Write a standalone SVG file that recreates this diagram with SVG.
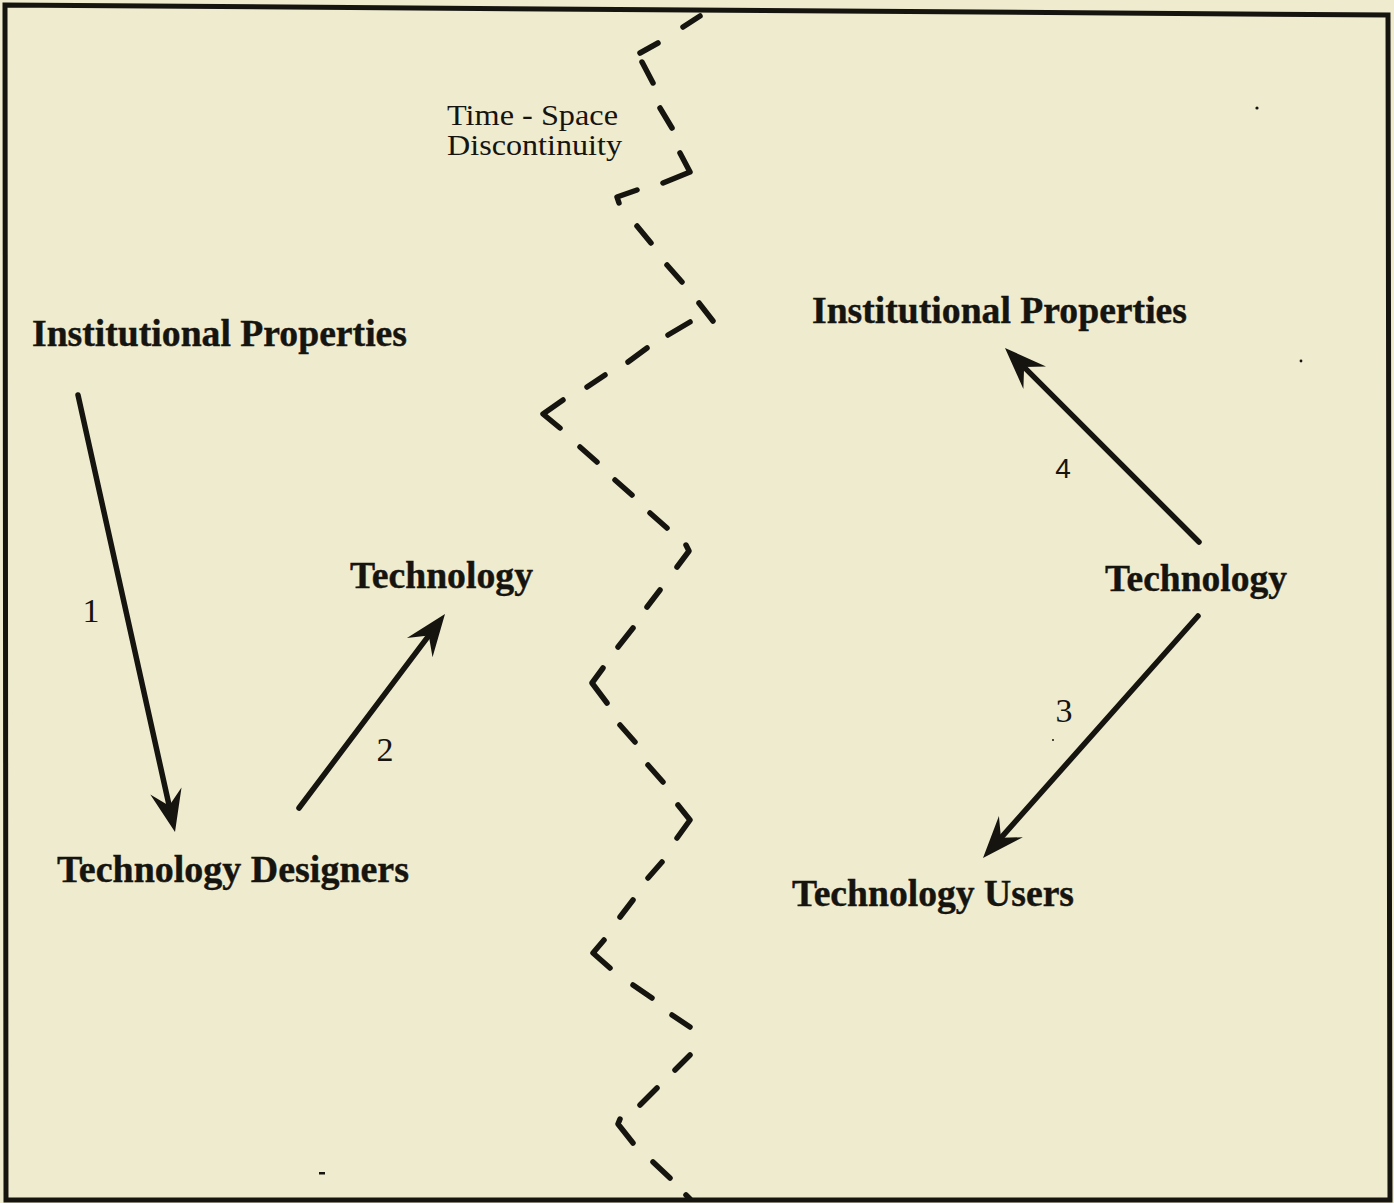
<svg xmlns="http://www.w3.org/2000/svg" width="1394" height="1203" viewBox="0 0 1394 1203">
  <defs>
    <style>
      .node { font-family: "Liberation Serif", "Times New Roman", serif; font-weight: bold; font-size: 38px; fill: #16140f; stroke: #16140f; stroke-width: 0.4; }
      .note { font-family: "Liberation Serif", "Times New Roman", serif; font-size: 30px; fill: #16140f; }
      .num { font-family: "Liberation Serif", "Times New Roman", serif; font-size: 34px; fill: #16140f; text-anchor: middle; }
      .num-sans { font-family: "Liberation Sans", Arial, sans-serif; font-size: 28px; fill: #16140f; text-anchor: middle; }
      .arrow { fill: none; stroke: #16140f; stroke-width: 5.5; stroke-linecap: round; marker-end: url(#barb); }
      .zigzag { fill: none; stroke: #16140f; stroke-width: 5.5; stroke-linecap: round; stroke-linejoin: round; }
      .frame { fill: none; stroke: #16140f; stroke-width: 5; stroke-linejoin: miter; }
    </style>
    <!-- barbed arrowhead: notch sits on the line end, tip 27px further on -->
    <marker id="barb" markerUnits="userSpaceOnUse" markerWidth="80" markerHeight="80" refX="0" refY="0" orient="auto" overflow="visible">
      <path d="M27,0 L-15,-16 L0,0 L-15,16 Z" fill="#16140f"/>
    </marker>
  </defs>

  <!-- paper -->
  <rect x="0" y="0" width="1394" height="1203" fill="#eeebcf"/>

  <!-- outer frame -->
  <g id="frame">
    <polygon class="frame" points="5,5 1388,15 1390,1200 6,1200"/>
  </g>

  <!-- time-space discontinuity: hand-drawn dashed zigzag -->
  <g id="discontinuity">
    <path class="zigzag" d="M700,16 L683,27 M658,43 L640,53 M642,62 L653,83 M660,108 L672,128 M680,153 L690,172 L663,183 M637,190 L617,197 L619,203 M637,226 L651,243 M667,265 L682,282 M699,303 L713,321 M690,322 L668,335 M647,348 L628,362 M605,375 L587,387 M563,400 L543,414 L560,428 M580,447 L597,462 M615,480 L632,495 M650,513 L667,528 M686,545 L689,551 L677,567 M660,590 L647,607 M633,628 L618,647 M603,668 L592,683 L607,703 M620,725 L635,742 M648,765 L663,782 M678,805 L690,820 L677,838 M662,862 L648,878 M633,900 L620,917 M604,940 L593,953 L610,968 M633,985 L652,998 M672,1015 L690,1027 M690,1055 L675,1070 M657,1088 L640,1105 M620,1119 L618,1124 L633,1143 M653,1162 L670,1178 M686,1195 L690,1199"/>
    <text class="note" x="447" y="125" textLength="171" lengthAdjust="spacingAndGlyphs">Time - Space</text>
    <text class="note" x="447" y="155" textLength="175" lengthAdjust="spacingAndGlyphs">Discontinuity</text>
  </g>

  <!-- left side: design time -->
  <g id="institutional-properties-left">
    <text class="node" x="32" y="346" textLength="375" lengthAdjust="spacingAndGlyphs">Institutional Properties</text>
  </g>
  <g id="technology-left">
    <text class="node" x="350" y="588" textLength="183" lengthAdjust="spacingAndGlyphs">Technology</text>
  </g>
  <g id="technology-designers">
    <text class="node" x="57" y="882" textLength="352" lengthAdjust="spacingAndGlyphs">Technology Designers</text>
  </g>

  <!-- right side: use time -->
  <g id="institutional-properties-right">
    <text class="node" x="812" y="323" textLength="375" lengthAdjust="spacingAndGlyphs">Institutional Properties</text>
  </g>
  <g id="technology-right">
    <text class="node" x="1105" y="591" textLength="182" lengthAdjust="spacingAndGlyphs">Technology</text>
  </g>
  <g id="technology-users">
    <text class="node" x="792" y="906" textLength="282" lengthAdjust="spacingAndGlyphs">Technology Users</text>
  </g>

  <!-- numbered influence arrows -->
  <g id="connectors">
    <line class="arrow" x1="78" y1="395" x2="169.15" y2="805.64"/>
    <line class="arrow" x1="299" y1="808" x2="428.76" y2="635.57"/>
    <line class="arrow" x1="1198" y1="616" x2="1000.93" y2="837.81"/>
    <line class="arrow" x1="1199" y1="542" x2="1024.09" y2="367.09"/>
    <text class="num" x="91" y="622">1</text>
    <text class="num" x="385" y="761">2</text>
    <text class="num" x="1064" y="722">3</text>
    <text class="num-sans" x="1063" y="478">4</text>
  </g>

  <!-- stray specks on the sheet -->
  <g id="specks" fill="#16140f">
    <circle cx="1257" cy="108" r="1.6"/>
    <circle cx="1301" cy="361" r="1.4"/>
    <circle cx="1053" cy="740" r="1"/>
    <rect x="319" y="1172" width="6" height="2.5"/>
  </g>
</svg>
